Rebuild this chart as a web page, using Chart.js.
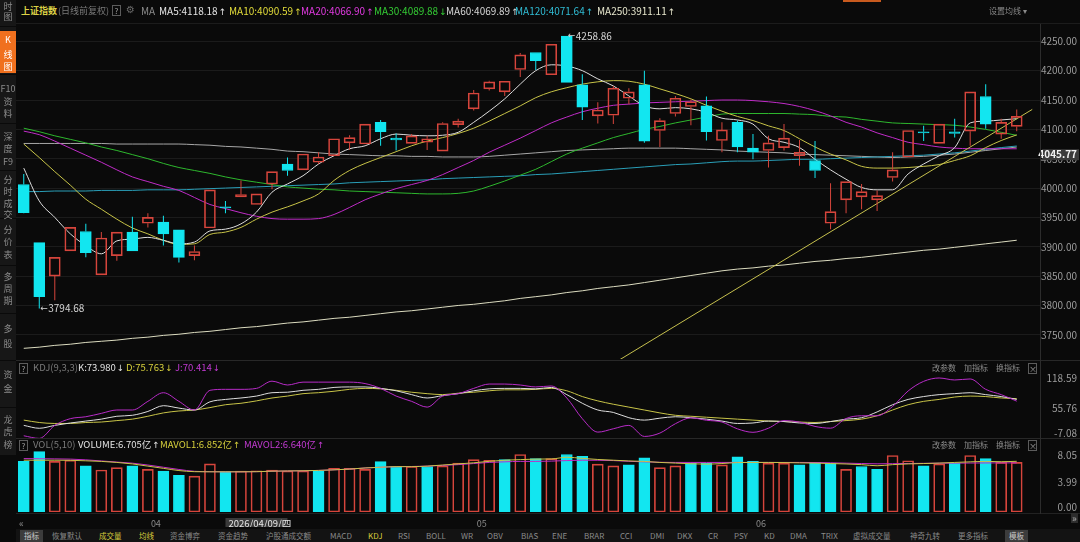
<!DOCTYPE html>
<html>
<head>
<meta charset="utf-8">
<title>上证指数 日K</title>
<script src="https://cdn.jsdelivr.net/npm/chart.js@4.4.1/dist/chart.umd.min.js"></script>
<style>
  html, body { margin: 0; padding: 0; }
  body { width: 1080px; height: 542px; background: #0a0a0a; position: relative; overflow: hidden;
         font-family: "Noto Sans CJK SC", "Noto Sans", sans-serif; color: #8a8a8a; }
  .t { position: absolute; white-space: nowrap; line-height: 1; }
  .t .ar { font-family: "DejaVu Sans", sans-serif; font-size: 0.9em; margin-left: 1px; }
  .q { position: absolute; width: 7px; height: 9px; border: 1px solid #5c5c5c; font-size: 8px; line-height: 9px;
       text-align: center; color: #a0a0a0; }
  canvas { position: absolute; }
  #side { position: absolute; left: 0; top: 0; width: 16px; height: 455px; background: #171717; }
  #tabbar { position: absolute; left: 16px; top: 529px; width: 1064px; height: 13px; background: #131313; }
</style>
</head>
<body>
<div id="side"></div>
<div id="tabbar"></div>

<canvas id="kline" width="1064" height="343" style="left:16px;top:20px;width:1064px;height:343px"></canvas>
<canvas id="kdj" width="1064" height="75" style="left:16px;top:368px;width:1064px;height:75px"></canvas>
<canvas id="vol" width="1064" height="82" style="left:16px;top:445px;width:1064px;height:82px"></canvas>

<script>
// ---- candles (上证指数 daily, 前复权) ----
const opens  = [4006,3907,3850,3893,3926,3852,3885,3925,3940,3942, 3929,3885,3932,3968,3985,3972,4007,4041,4031,4044,
                4055,4077,4075,4112,4085,4076,4078,4063,4108,4135, 4169,4164,4202,4231,4193,4258.86,4176,4123,4124,4153,
                4176,4098,4127,4139,4140,4081,4112,4068,4064,4069, 4055,4047,3940,3980,3985,3980,4018,4053,4096,4076,
                4096,4097,4156,4092,4105];
const highs  = [4024,3907,3882,3933,3939,3925,3925,3951,3957,3953, 3929,3902,3997,3978,4013,3990,4028,4052,4058,4061,
                4084,4090,4109,4116,4093,4092,4089,4112,4118,4167, 4183,4182,4230,4231,4245,4258.86,4194,4146,4174,4170,
                4200,4119,4157,4151,4156,4112,4115,4092,4089,4109, 4082,4080,4008,4011,4007,3996,4061,4098,4106,4109,
                4118,4164,4177,4118,4134];
const lows   = [3957,3794.68,3809,3893,3882,3852,3876,3893,3933,3902, 3873,3877,3932,3957,3985,3972,3998,4021,4031,4041,
                4055,4065,4075,4072,4064,4076,4065,4063,4103,4132, 4166,4157,4189,4201,4193,4180,4116,4110,4109,4143,
                4077,4070,4122,4107,4081,4061,4061,4049,4035,4064, 4038,4017,3930,3957,3964,3961,4011,4053,4080,4076,
                4086,4072,4101,4084,4097];
const closes = [3958,3815,3882,3933,3890,3915,3925,3893,3950,3922, 3882,3892,3997,3966,3989,3990,4028,4030,4058,4053,
                4084,4086,4109,4096,4082,4089,4084,4110,4114,4162, 4181,4182,4227,4217,4245,4180,4138,4133,4170,4164,
                4080,4115,4153,4147,4096,4099,4070,4061,4077,4085, 4061,4030,3960,4011,3994,3987,4031,4098,4094,4109,
                4093,4164,4109,4112,4122];

// ---- moving averages ----
const ma5   = [4034,3978,3950,3922,3902,3888,3910,3913,3916,3911, 3905,3908,3927,3930,3939,3959,3993,4007,4021,4041,
               4055,4067,4072,4084,4092,4090,4089,4090,4095,4112, 4131,4152,4177,4200,4210,4208,4200,4186,4174,4157,
               4140,4135,4137,4135,4129,4119,4116,4109,4084,4078, 4069,4049,4031,4015,4001,3997,3997,4024,4041,4055,
               4069,4111,4114,4116,4118.18];
const ma10  = [4075,4052,4028,4005,3981,3964,3947,3932,3922,3911, 3904,3905,3921,3925,3933,3947,3959,3968,3978,3990,
               4013,4030,4042,4052,4062,4072,4080,4086,4093,4102, 4114,4127,4140,4154,4164,4171,4177,4181,4183,4182,
               4177,4169,4161,4152,4141,4131,4122,4115,4106,4098, 4084,4070,4058,4048,4037,4034,4034,4035,4037,4040,
               4047,4055,4069,4081,4090.59];
const ma20  = [4097,4091,4080,4068,4056,4044,4031,4019,4011,4003, 3996,3984,3972,3965,3958,3952,3948,3947,3947,3948,
               3955,3967,3980,3990,3999,4006,4013,4023,4035,4047, 4061,4073,4085,4098,4111,4121,4130,4136,4141,4143,
               4145,4146,4147,4148,4149,4150,4150,4149,4147,4144, 4139,4132,4123,4112,4104,4094,4086,4078,4074,4070,
               4068,4067,4067,4067,4066.90];
const ma30  = [4102,4096,4089,4083,4077,4070,4064,4057,4050,4042, 4035,4030,4025,4019,4014,4010,4006,4002,4000,3998,
               3997,3995,3994,3993,3992,3991,3990,3990,3991,3995, 4003,4012,4022,4032,4045,4058,4068,4077,4086,4093,
               4100,4105,4111,4116,4121,4126,4127,4127,4127,4127, 4126,4125,4122,4121,4117,4114,4111,4110,4109,4108,
               4107,4104,4100,4095,4089.88];
const ma60  = [4076,4076,4076,4076,4076,4076,4075,4075,4075,4075, 4075,4074,4073,4071,4070,4068,4066,4063,4062,4060,
               4058,4057,4056,4055,4055,4054,4054,4053,4053,4053, 4054,4056,4058,4060,4062,4064,4065,4066,4067,4068,
               4068,4068,4068,4067,4066,4065,4063,4062,4061,4060, 4058,4057,4056,4055,4054,4053,4052,4053,4054,4056,
               4058,4061,4064,4067,4069.89];
const ma120 = [3994,3994,3995,3995,3995,3996,3996,3996,3997,3997, 3997,3998,3999,4000,4001,4002,4003,4004,4005,4006,
               4007,4009,4010,4011,4012,4013,4014,4016,4017,4018, 4019,4020,4021,4023,4024,4026,4028,4030,4032,4034,
               4036,4038,4040,4041,4043,4045,4046,4046,4047,4048, 4049,4049,4050,4051,4052,4053,4054,4055,4056,4058,
               4060,4063,4066,4069,4071.64];
const ma250 = [3727,3729,3732,3734,3737,3739,3741,3744,3746,3749, 3751,3754,3756,3759,3762,3764,3767,3770,3772,3775,
               3778,3780,3783,3786,3789,3791,3794,3797,3800,3802, 3805,3808,3812,3815,3818,3822,3825,3829,3832,3835,
               3839,3843,3847,3851,3855,3859,3862,3864,3867,3869, 3872,3875,3877,3880,3882,3885,3888,3891,3894,3896,
               3899,3902,3905,3908,3911.11];

// drawn trend line: two anchor candles and their prices
const trendIdx = [38, 65];
const trendVal = [3701, 4134];

// ---- KDJ(9,3,3) ----
const kdjK = [20,14,20,25,29,33,39,41,49,61, 56,52,69,74,77,81,88,89,93,95,
              99,100,100,97,92,84,77,82,86,92, 96,97,97,96,99,84,66,52,47,36,
              31,35,38,36,33,29,24,25,29,28, 25,24,28,33,36,48,63,74,80,84,
              86,88,84,80,73.98];
const kdjD = [31,26,24,24,26,27,30,33,39,46, 50,52,57,63,66,71,77,81,86,88,
              91,95,97,96,93,89,86,84,87,89, 92,94,94,95,97,92,80,71,64,58,
              52,46,41,39,37,35,33,31,29,28, 27,26,28,30,33,40,52,63,70,74,
              79,81,80,77,75.763];
const kdjJ = [-1.6,-7.08,20,34,38,45,52,52,70,88, 70,52,93,95,95,97,112,104,110,110,
              110,110,107,97,81,70,58,81,86,97, 106,106,104,100,102,77,34,6,13,20,
              -3,4,23.5,35.7,30.7,27,12.8,5.6,14.2,30, 27,17.8,14.2,34.3,40,40,59.3,91.6,111.6,118.59,
              114.5,116.6,95,84,70.414];

// ---- volume (亿) ----
const volumes = [6.84,8.15,6.84,6.99,6.23,5.68,6.00,6.23,5.77,5.54, 4.97,4.84,6.51,5.45,5.54,5.58,5.68,5.54,5.54,5.54,
                 5.91,5.91,5.77,6.80,6.15,6.15,6.15,6.23,6.61,7.07, 6.99,7.07,7.77,7.22,7.22,7.77,7.54,6.47,6.23,6.38,
                 7.31,6.00,6.23,6.61,6.61,6.38,7.45,6.84,6.61,6.61, 6.38,6.70,6.61,5.77,6.15,5.77,7.64,6.93,6.23,6.51,
                 6.61,7.64,7.22,6.70,6.71];
// 1 = red (close above previous close), 0 = cyan
const volUp = [0,0,1,1,0,1,1,0,1,0, 0,1,1,0,1,1,1,1,1,0, 1,1,1,0,0,1,0,1,1,1,
               1,0,1,0,1,0,0,1,1,0, 0,1,1,0,0,1,0,0,1,1, 0,0,0,1,0,0,1,1,0,1,
               0,1,0,1,1];
const mavol1 = [7.0,7.0,7.0,6.99,6.92,6.84,6.70,6.50,6.2,5.9, 5.6,5.45,5.43,5.43,5.43,5.45,5.52,5.55,5.57,5.62,
                5.70,5.80,5.95,6.05,6.13,6.13,6.2,6.35,6.5,6.65, 6.85,7.0,7.08,7.15,7.17,7.4,7.25,7.1,7.0,6.9,
                6.84,6.7,6.61,6.52,6.47,6.55,6.68,6.70,6.70,6.68, 6.64,6.61,6.55,6.49,6.40,6.25,6.4,6.5,6.55,6.61,
                6.7,6.78,6.84,6.80,6.852];
const mavol2 = [7.22,7.2,7.18,7.15,7.05,6.9,6.75,6.6,6.35,6.05, 5.75,5.5,5.45,5.43,5.43,5.45,5.5,5.55,5.57,5.62,
                5.7,5.8,5.95,6.05,6.13,6.15,6.2,6.3,6.4,6.55, 6.7,6.78,6.84,6.84,6.88,6.95,7.0,6.99,6.95,6.85,
                6.78,6.72,6.70,6.70,6.70,6.70,6.70,6.70,6.70,6.70, 6.70,6.69,6.65,6.6,6.55,6.51,6.53,6.56,6.58,6.60,
                6.61,6.62,6.63,6.64,6.640];

// ---- axis ticks / labels ----
const priceTicks = [3750, 3800, 3850, 3900, 3950, 4000, 4050, 4100, 4150, 4200, 4250];
const kdjTicks = [-7.08, 55.76, 118.59];
const volTicks = [0, 3.99, 8.05];
const monthStart = [8, 29, 47];
const monthName = ['04', '05', '06'];
const crossIdx = 13;
const crossDate = '2026/04/09/四';
const crossPrice = 4045.77;

const UP = '#d6453c';
const DOWN = '#12e6f0';
const NONE = 'rgba(0,0,0,0)';
const FONT = '"Noto Sans CJK SC", "Noto Sans", sans-serif';
Chart.defaults.font.family = FONT;

// one spare slot on the right edge
const labels = opens.map((_, i) => String(i)).concat(['']);
const isUp = closes.map((c, i) => c >= opens[i]);
const candleColor = isUp.map(u => u ? UP : DOWN);
const trendData = labels.map((_, i) => {
    const k = trendIdx.indexOf(i);
    return k >= 0 ? trendVal[k] : null;
});

function lineSet(values, color, order) {
    return {
        type: 'line', data: values, borderColor: color, borderWidth: 1, pointRadius: 0,
        cubicInterpolationMode: 'monotone', fill: false, order: order,
    };
}

function yAxis(min, max, extra) {
    return Object.assign({
        position: 'right', min: min, max: max,
        afterFit: s => { s.width = 40; },
        ticks: { display: false },
        grid: { display: false },
        border: { display: false },
    }, extra || {});
}

// right-hand value labels, kept inside each panel
function drawAxisLabels(chart, values, pad) {
    const { ctx, chartArea } = chart;
    const y = chart.scales.y;
    ctx.save();
    ctx.font = '10px ' + FONT;
    ctx.fillStyle = '#9c9c9c';
    ctx.textAlign = 'right';
    ctx.textBaseline = 'middle';
    values.forEach(v => {
        let py = y.getPixelForValue(v);
        py = Math.max(chartArea.top + pad, Math.min(chartArea.bottom - pad, py));
        ctx.fillText(v.toFixed(2), chartArea.right + 37, py);
    });
    ctx.restore();
}

const klinePlugin = {
    id: 'klineText',
    afterDraw(chart) {
        const { ctx, chartArea, scales: { x, y } } = chart;
        drawAxisLabels(chart, priceTicks, 0);
        // highest / lowest price markers
        const hi = highs.indexOf(Math.max(...highs));
        const lo = lows.indexOf(Math.min(...lows));
        ctx.save();
        ctx.fillStyle = '#d6d6d6';
        ctx.textAlign = 'left';
        ctx.textBaseline = 'middle';
        [[hi, highs[hi]], [lo, lows[lo]]].forEach(([idx, v]) => {
            const px = x.getPixelForValue(idx) + 1;
            const py = y.getPixelForValue(v);
            ctx.font = '9px "DejaVu Sans", sans-serif';
            ctx.fillText('←', px, py);
            ctx.font = '10px ' + FONT;
            ctx.fillText(v.toFixed(2), px + 8, py);
        });
        // cursor price tag on the axis
        const py = y.getPixelForValue(crossPrice) - 7;
        ctx.fillStyle = '#3b3b3b';
        ctx.fillRect(chartArea.right + 2, py - 5, 37, 11);
        ctx.fillStyle = '#f2f2f2';
        ctx.font = 'bold 10px ' + FONT;
        ctx.textAlign = 'right';
        ctx.fillText(crossPrice.toFixed(2), chartArea.right + 37, py);
        ctx.restore();
    },
};

new Chart(document.getElementById('kline'), {
    type: 'bar',
    data: {
        labels: labels,
        datasets: [
            { data: highs.map((h, i) => [Math.max(opens[i], closes[i]), h]), backgroundColor: candleColor,
              barThickness: 1, grouped: false, inflateAmount: 0, order: 3 },
            { data: lows.map((l, i) => [l, Math.min(opens[i], closes[i])]), backgroundColor: candleColor,
              barThickness: 1, grouped: false, inflateAmount: 0, order: 3 },
            { data: opens.map((o, i) => [o, closes[i]]), backgroundColor: isUp.map(u => u ? NONE : DOWN),
              borderColor: candleColor, borderWidth: 1, borderSkipped: false, barThickness: 11,
              grouped: false, order: 2 },
            lineSet(ma250, '#dcdcc0', 9),
            lineSet(ma120, '#2a9fb8', 9),
            lineSet(ma60, '#a8a8a8', 9),
            lineSet(ma30, '#2eb82e', 8),
            lineSet(ma20, '#c02cc8', 7),
            lineSet(ma10, '#c8c448', 6),
            lineSet(ma5, '#dedede', 5),
            Object.assign(lineSet(trendData, '#c6c04e', 4), { spanGaps: true, cubicInterpolationMode: 'default', tension: 0 }),
        ],
    },
    options: {
        responsive: false, animation: false, events: [],
        layout: { padding: { top: 4, bottom: 4, left: 0, right: 0 } },
        plugins: { legend: { display: false }, tooltip: { enabled: false } },
        scales: {
            x: { type: 'category', offset: true, display: false },
            y: yAxis(3708.8, 4279.5, {
                afterBuildTicks: s => { s.ticks = priceTicks.map(v => ({ value: v })); },
                grid: { display: true, color: '#1b1b1b', drawTicks: false },
            }),
        },
    },
    plugins: [klinePlugin],
});

new Chart(document.getElementById('kdj'), {
    type: 'line',
    data: {
        labels: labels,
        datasets: [
            lineSet(kdjD, '#c8c448', 3),
            lineSet(kdjK, '#dedede', 2),
            lineSet(kdjJ, '#b82cc8', 1),
        ],
    },
    options: {
        responsive: false, animation: false, events: [],
        layout: { padding: { top: 4, bottom: 4, left: 0, right: 0 } },
        plugins: { legend: { display: false }, tooltip: { enabled: false } },
        scales: {
            x: { type: 'category', offset: true, display: false },
            y: yAxis(-8.31, 131.07),
        },
    },
    plugins: [{ id: 'kdjText', afterDraw: c => drawAxisLabels(c, kdjTicks, 6) }],
});

const volPlugin = {
    id: 'volText',
    afterDraw(chart) {
        const { ctx, chartArea, scales: { x } } = chart;
        drawAxisLabels(chart, volTicks, 5);
        ctx.save();
        ctx.font = '9px ' + FONT;
        ctx.fillStyle = '#8a8a8a';
        ctx.textAlign = 'left';
        ctx.textBaseline = 'middle';
        const ty = chartArea.bottom + 11.5;
        monthStart.forEach((idx, k) => ctx.fillText(monthName[k], x.getPixelForValue(idx) + 3, ty));
        const bx = x.getPixelForValue(crossIdx);
        ctx.fillStyle = '#3a3a3a';
        ctx.fillRect(bx, chartArea.bottom + 6, 62, 11);
        ctx.fillStyle = '#e4e4e4';
        ctx.font = '9.5px ' + FONT;
        ctx.fillText(crossDate, bx + 3, ty);
        ctx.restore();
    },
};

new Chart(document.getElementById('vol'), {
    type: 'bar',
    data: {
        labels: labels,
        datasets: [
            { data: volumes, backgroundColor: volUp.map(u => u ? NONE : DOWN),
              borderColor: volUp.map(u => u ? UP : DOWN), borderWidth: 1, borderSkipped: false,
              barThickness: 11, grouped: false, order: 3 },
            lineSet(mavol2, '#c02cc8', 2),
            lineSet(mavol1, '#c8c448', 1),
        ],
    },
    options: {
        responsive: false, animation: false, events: [],
        layout: { padding: { top: 5, bottom: 15, left: 0, right: 0 } },
        plugins: { legend: { display: false }, tooltip: { enabled: false } },
        scales: {
            x: { type: 'category', offset: true, display: false },
            y: yAxis(0, 8.38),
        },
    },
    plugins: [volPlugin],
});

// ---- surrounding text: header rows, sidebar, tab bar ----
function put(text, left, top, size, color, extra) {
    const el = document.createElement('div');
    el.className = 't';
    // trailing ↑/↓ drawn in a narrower font
    const m = /^(.*?)([↑↓])$/.exec(text);
    if (m) {
        el.textContent = m[1];
        const a = document.createElement('span');
        a.className = 'ar';
        a.textContent = m[2];
        el.appendChild(a);
    } else {
        el.textContent = text;
    }
    el.style.left = left + 'px';
    el.style.top = top + 'px';
    el.style.fontSize = size + 'px';
    el.style.color = color;
    if (extra) Object.assign(el.style, extra);
    document.body.appendChild(el);
    return el;
}
function box(left, top, cls, text) {
    const el = document.createElement('div');
    el.className = cls;
    el.style.left = left + 'px';
    el.style.top = top + 'px';
    el.textContent = text;
    document.body.appendChild(el);
    return el;
}
function rule(left, top, width, height, color) {
    const el = document.createElement('div');
    el.style.cssText = 'position:absolute;left:' + left + 'px;top:' + top + 'px;width:' + width +
        'px;height:' + height + 'px;background:' + color;
    document.body.appendChild(el);
}

// panel dividers
rule(16, 23, 1064, 1, '#1c1c1c');
rule(16, 360, 1064, 1, '#282828');
rule(16, 438, 1064, 1, '#282828');
rule(16, 513, 1064, 1, '#222');
rule(1040, 24, 1, 490, '#2c2c2c');
rule(843, 0, 38, 2, '#c85a1e');

// title row
put('上证指数', 21, 6, 9, '#dcd246', { fontWeight: 'bold' });
put('(日线前复权)', 58, 6, 9, '#7a7a7a');
box(112, 5, 'q', '?');
put('⚙', 126, 5, 10, '#6a6a6a', { fontFamily: '"DejaVu Sans", sans-serif' });
put('MA', 141, 6, 10, '#8a8a8a');
const maHeads = [
    ['MA5:4118.18↑', 159, '#e4e4e4'], ['MA10:4090.59↑', 229, '#e2dc3a'], ['MA20:4066.90↑', 301, '#e03ae0'],
    ['MA30:4089.88↓', 374, '#34cc34'], ['MA60:4069.89↑', 446, '#d4d4d4'], ['MA120:4071.64↑', 515, '#30bcd4'],
    ['MA250:3911.11↑', 597, '#e6e6cc'],
];
maHeads.forEach(h => put(h[0], h[1], 6, 10, h[2]));
put('设置均线 ▾', 989, 7, 8, '#8a8a8a');

// indicator headers
box(19, 363, 'q', '?');
put('KDJ(9,3,3)', 33, 363, 9.5, '#7a7a7a');
put('K:73.980↓', 78, 363, 9.5, '#e4e4e4');
put('D:75.763↓', 126, 363, 9.5, '#d6cf3c');
put('J:70.414↓', 175, 363, 9.5, '#c23ad2');
box(19, 440, 'q', '?');
put('VOL(5,10)', 33, 440, 9.5, '#7a7a7a');
put('VOLUME:6.705亿↑', 78, 440, 9.5, '#e4e4e4');
put('MAVOL1:6.852亿↑', 160, 440, 9.5, '#d6cf3c');
put('MAVOL2:6.640亿↑', 244, 440, 9.5, '#c23ad2');
[364, 441].forEach(y => {
    put('改参数', 932, y, 8, '#8a8a8a');
    put('加指标', 964, y, 8, '#8a8a8a');
    put('换指标', 996, y, 8, '#8a8a8a');
    box(1028, y - 1, 'q', '×');
});

// date row arrows
put('«', 19, 518, 10, '#8a8a8a');
put('»', 1071, 513, 10, '#b0b0b0', { background: '#2c2c2c', padding: '0 1px' });

// sidebar
const sideGroups = [
    { chars: ['时', '图'], ys: [7, 17] },
    { chars: ['K', '线', '图'], ys: [40, 55, 67], active: true },
    { chars: ['F10', '资', '料'], ys: [89, 102, 114] },
    { chars: ['深', '度', 'F9'], ys: [137, 149, 162] },
    { chars: ['分', '时', '成', '交'], ys: [180, 192, 204, 215] },
    { chars: ['分', '价', '表'], ys: [230, 242, 255] },
    { chars: ['多', '周', '期'], ys: [277, 289, 301] },
    { chars: ['多', '股'], ys: [329, 344] },
    { chars: ['资', '金'], ys: [375, 389] },
    { chars: ['龙', '虎', '榜'], ys: [420, 432, 445] },
];
const sideRules = [26, 74, 123, 170, 218, 265, 313, 360, 407, 455];
rule(0, 31, 16, 42, '#f0701e');
sideRules.forEach(y => rule(0, y, 16, 1, '#0a0a0a'));
sideGroups.forEach(g => g.chars.forEach((ch, k) => {
    put(ch, 0, g.ys[k] - 5, 9, g.active ? '#ffffff' : '#8c8c8c', { width: '16px', textAlign: 'center' });
}));

// bottom tab bar
const tabs = [
    ['指标', 24, 'box'], ['恢复默认', 52], ['成交量', 99, 'y'], ['均线', 139, 'y'], ['资金博弈', 170],
    ['资金趋势', 218], ['沪股通成交额', 266], ['MACD', 330], ['KDJ', 368, 'y'], ['RSI', 398], ['BOLL', 426],
    ['WR', 461], ['OBV', 487], ['BIAS', 521], ['ENE', 552], ['BRAR', 584], ['CCI', 620], ['DMI', 650],
    ['DKX', 677], ['CR', 708], ['PSY', 734], ['KD', 764], ['DMA', 790], ['TRIX', 821], ['虚拟成交量', 853],
    ['神奇九转', 910], ['更多指标', 958], ['模板', 1009, 'box'],
];
tabs.forEach(t => {
    const cjk = /[^\x00-\x7f]/.test(t[0]);
    const el = put(t[0], t[1], 532, cjk ? 7.5 : 8, t[2] === 'y' ? '#d8cc3c' : '#8a8a8a');
    if (t[2] === 'box') Object.assign(el.style, { background: '#3c3c3c', color: '#c8c8c8', padding: '2px 4px', top: '530px', left: (t[1] - 4) + 'px' });
});
</script>
</body>
</html>
